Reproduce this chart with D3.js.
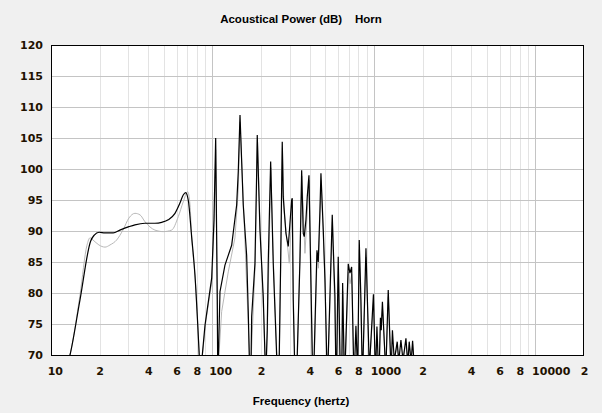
<!DOCTYPE html>
<html><head><meta charset="utf-8">
<script src="https://cdn.jsdelivr.net/npm/d3@7"></script>
<style>
html,body{margin:0;padding:0;background:#f0f0f0;}
svg{display:block;}
</style></head><body>
<svg id="chart" width="602" height="413"></svg>
<script>
const titleText = "Acoustical Power (dB)    Horn";
const xAxisTitle = "Frequency (hertz)";
const yTickValues = [70, 75, 80, 85, 90, 95, 100, 105, 110, 115, 120];
const xTickValues = [10, 20, 40, 60, 80, 100, 200, 400, 600, 800, 1000, 2000, 4000, 6000, 8000, 10000, 20000];
const xTickLabels = ["10", "2", "4", "6", "8", "100", "2", "4", "6", "8", "1000", "2", "4", "6", "8", "10000", "2"];
const minorGridFreqs = [20, 30, 40, 50, 60, 70, 80, 90, 200, 300, 400, 500, 600, 700, 800, 900,
  2000, 3000, 4000, 5000, 6000, 7000, 8000, 9000];
const majorGridFreqs = [100, 1000, 10000];
const smoothBelowHz = 83; // smooth low-frequency part, straight segments for the resonance spikes above

// Main response (black)
const blackFreq = [12.67, 13.11, 15.12, 17.61, 18.54, 19.83, 21.6, 24.3, 26.7, 30.4, 33.1, 38.2, 44.0, 48.5, 53.2, 58.6,
  62.9, 65.9, 68.2, 70.8, 74.3, 77.9, 82.8, 84.6, 86.5, 89.9, 98.9, 102.2, 104.7, 107.1, 107.8, 108.9, 111.3, 119.5,
  131.5, 141.2, 144.5, 148.1, 155.1, 162.8, 166.6, 169.0, 171.2, 173.6, 174.9, 183.3, 187.8, 189.4, 196.8, 206.3,
  211.4, 214.4, 218.4, 221.5, 229.3, 237.9, 249.7, 254.4, 259.2, 264.4, 270.5, 274.4, 285.2, 294.7, 309.3, 312.0,
  316.4, 321.9, 328.9, 335.0, 348.3, 356.8, 365.0, 370.3, 379.3, 386.4, 395.9, 401.6, 414.9, 420.3, 426.4, 443.8,
  452.0, 463.1, 469.7, 485.5, 497.4, 509.6, 515.4, 521.3, 551.9, 559.8, 573.5, 579.2, 584.2, 589.3, 601.0, 615.8,
  624.6, 633.8, 640.0, 652.0, 659.6, 666.2, 693.3, 710.3, 727.7, 746.6, 755.1, 762.8, 773.6, 785.0, 791.6, 796.0,
  811.0, 830.9, 842.8, 850.0, 857.3, 892.5, 931.1, 939.1, 947.3, 993.0, 1014.4, 1023.0, 1031.8, 1043.7, 1058.7,
  1070.8, 1083.1, 1097.1, 1109.7, 1128.6, 1169.8, 1181.5, 1193.3, 1226.3, 1265.5, 1276.3, 1287.3, 1302, 1330,
  1342, 1353, 1394, 1414, 1426, 1438, 1469.6, 1501.6, 1514.4, 1529.6, 1578.3, 1605.8, 1619.6, 1633.5, 1654,
  1682.7, 1697, 1711.6, 1736, 1758.7, 1781.6];
const blackDb = [68.5, 70.0, 78.9, 88.4, 89.35, 89.8, 89.7, 89.7, 90.15, 90.7, 91.0, 91.25, 91.25, 91.4, 91.8, 92.85,
  94.5, 95.8, 96.2, 95.0, 89.1, 82.9, 70.0, 67.3, 70.0, 74.8, 82.4, 91.8, 105.0, 78.9, 67.3, 70.0, 80.2, 84.5,
  87.7, 94.2, 99.6, 108.7, 94.2, 86.1, 77.0, 70.0, 67.3, 70.0, 76.2, 84.8, 99.3, 105.5, 90.2, 79.4,
  70.0, 67.3, 74.0, 84.8, 101.2, 84.8, 70.0, 67.3, 70.0, 84.8, 104.4, 95.5, 89.6, 87.5, 95.0, 95.3,
  78.9, 70.0, 67.3, 70.0, 85.3, 99.8, 89.6, 89.1, 91.8, 95.5, 99.0, 90.2, 70.0, 67.3, 70.0, 86.9,
  85.0, 93.4, 99.3, 90.2, 82.1, 70.0, 67.3, 70.0, 92.6, 87.5, 79.4, 70.0, 67.5, 70.0, 85.85, 70.0,
  67.5, 70.0, 81.6, 70.0, 67.9, 70.0, 84.7, 83.2, 84.2, 70.0, 67.9, 70.0, 74.7, 70.0, 67.9, 70.0,
  88.55, 78.9, 70.0, 67.9, 70.0, 87.2, 70.0, 67.9, 70.0, 79.8, 70.0, 67.9, 70.0, 74.6, 70.0,
  67.9, 70.0, 76.0, 74.0, 78.6, 70.0, 67.9, 70.0, 80.5, 70.0, 67.9, 70.0, 74.0, 70.0,
  67.9, 70.0, 72.15, 70.0, 67.9, 70.0, 72.4, 70.0, 67.9, 70.0, 72.7, 70.0, 67.9, 70.0, 72.15,
  70.0, 67.9, 70.0, 72.3, 70.0, 67.3];

// Second response (light grey)
const grayFreq = [12.67, 13.11, 15.12, 16.7, 17.45, 18.2, 19.8, 21.6, 23.2, 25.5, 27.9, 30.4, 33.1, 35.6, 38.2, 44.0,
  49.6, 55.9, 61.4, 65.9, 70.2, 72.6, 74.3, 77.9, 82.8, 84.6, 86.7, 91.2, 99.3, 102.4, 104.7, 107.1, 107.8, 109.7,
  114.0, 125.3, 137.8, 144.5, 148.1, 155.6, 169.5, 171.2, 174.1, 184.1, 189.9, 197.7, 212.0, 214.4, 219.0, 229.9,
  238.6, 250.5, 254.4, 260.0, 271.3, 277.2, 298.9, 312.0, 317.3, 322.8, 328.9, 336.0, 357.8, 373.9, 397.0, 403.3,
  416.1, 420.3, 428.2, 445.0, 453.3, 471.1, 498.8, 510.9, 515.4, 522.8, 553.4, 580.9, 584.2, 590.5, 602.5, 616.5,
  624.6, 634.5, 641, 652.8, 659.6, 667, 695, 711, 729, 747.5, 755.1, 796.5, 812, 843.5, 850, 858, 893.5, 932,
  939.1, 948, 994, 1015, 1023, 1084, 1098, 1129.5, 1170.5, 1181.5, 1194, 1227.5, 1266, 1276.3, 1354, 1395, 1415,
  1426, 1530, 1579, 1606, 1619.6, 1634, 1655, 1683, 1697, 1712, 1737, 1759, 1781.6];
const grayDb = [68.5, 70.0, 79.7, 87.7, 88.9, 88.55, 87.75, 87.4, 87.75, 88.55, 90.15, 92.1, 92.85, 92.6, 91.5, 90.15,
  89.9, 90.15, 92.3, 94.7, 96.35, 94.2, 89.1, 82.9, 70.0, 67.3, 70.0, 75.6, 82.1, 91.0, 103.1, 78.9, 67.3, 70.0,
  77.0, 83.4, 88.9, 96.6, 107.6, 94.2, 70.0, 67.3, 70.0, 84.8, 104.7, 90.15, 70.0, 67.3, 74.0, 100.2,
  84.8, 70.0, 67.3, 70.0, 103.4, 93.4, 84.8, 94.2, 78.9, 70.0, 67.3, 70.0, 98.9, 86.4, 98.2, 89.35,
  70.0, 67.3, 70.0, 86.1, 84.0, 98.2, 81.3, 70.0, 67.3, 70.0, 91.45, 70.0, 67.5, 70.0, 84.6, 70.0,
  67.5, 70.0, 80.3, 70.0, 67.9, 70.0, 83.4, 81.5, 83.0, 70.0, 67.9, 70.0, 87.0, 70.0, 67.9, 70.0, 85.8, 70.0,
  67.9, 70.0, 78.6, 70.0, 67.9, 70.0, 75.0, 77.5, 70.0, 67.9, 70.0, 79.4, 70.0, 67.9, 70.0, 71.5, 70.0,
  67.9, 70.0, 72.0, 70.0, 67.9, 70.0, 71.6, 70.0, 67.9, 70.0, 71.7, 70.0, 67.3];

const W = 602, H = 413;
const plot = {left: 51, right: 584, top: 45, bottom: 355};
const svg = d3.select("#chart");

const x = d3.scaleLog().domain([10, 20000]).range([plot.left, plot.right]);
const y = d3.scaleLinear().domain([70, 120]).range([plot.bottom, plot.top]);

svg.append("rect").attr("width", W).attr("height", H).attr("fill", "#f0f0f0");
svg.append("rect").attr("x", plot.left).attr("y", plot.top)
  .attr("width", plot.right - plot.left).attr("height", plot.bottom - plot.top).attr("fill", "#ffffff");

svg.append("defs").append("clipPath").attr("id", "clip").append("rect")
  .attr("x", plot.left).attr("y", plot.top)
  .attr("width", plot.right - plot.left).attr("height", plot.bottom - plot.top);

// minor vertical grid
const gMinor = svg.append("g").attr("transform", `translate(0,${plot.bottom})`)
  .call(d3.axisBottom(x).tickValues(minorGridFreqs).tickSize(-(plot.bottom - plot.top)).tickFormat(""));
gMinor.select(".domain").remove();
gMinor.selectAll("line").attr("stroke", "#e3e3e3").attr("shape-rendering", "crispEdges");

// major vertical grid
const gMajor = svg.append("g").attr("transform", `translate(0,${plot.bottom})`)
  .call(d3.axisBottom(x).tickValues(majorGridFreqs).tickSize(-(plot.bottom - plot.top)).tickFormat(""));
gMajor.select(".domain").remove();
gMajor.selectAll("line").attr("stroke", "#c4c4c4").attr("shape-rendering", "crispEdges");

// horizontal grid
const gH = svg.append("g").attr("transform", `translate(${plot.left},0)`)
  .call(d3.axisLeft(y).tickValues(yTickValues.slice(1, -1)).tickSize(-(plot.right - plot.left)).tickFormat(""));
gH.select(".domain").remove();
gH.selectAll("line").attr("stroke", "#c4c4c4").attr("shape-rendering", "crispEdges");

const smoothLine = d3.line().x(d => x(d[0])).y(d => y(d[1])).curve(d3.curveMonotoneX);
const sharpLine = d3.line().x(d => x(d[0])).y(d => y(d[1])).curve(d3.curveLinear);

function drawSeries(freqs, dbs, color, width) {
  const data = freqs.map((f, i) => [f, dbs[i]]);
  let split = data.findIndex(d => d[0] > smoothBelowHz);
  const low = data.slice(0, split);
  const high = data.slice(split - 1);
  const d = smoothLine(low) + sharpLine(high).replace(/^M/, "L");
  gLines.append("path").attr("d", d)
    .attr("fill", "none").attr("stroke", color).attr("stroke-width", width).attr("stroke-linejoin", "miter");
}

const gLines = svg.append("g").attr("clip-path", "url(#clip)");
drawSeries(grayFreq, grayDb, "#b8b8b8", 1.0);
drawSeries(blackFreq, blackDb, "#000000", 1.2);

// border
svg.append("rect").attr("x", plot.left + 0.5).attr("y", plot.top + 0.5)
  .attr("width", plot.right - plot.left - 1).attr("height", plot.bottom - plot.top)
  .attr("fill", "none").attr("stroke", "#000").attr("stroke-width", 1);

const labelColor = "#1f1200";
// y axis labels
const gy = svg.append("g").attr("transform", `translate(${plot.left},0)`)
  .call(d3.axisLeft(y).tickValues(yTickValues).tickSize(0).tickPadding(8).tickFormat(d3.format("d")));
gy.select(".domain").remove();
gy.selectAll("text").attr("fill", labelColor)
  .style("font-family", "'DejaVu Sans', Verdana, sans-serif").style("font-weight", "bold").style("font-size", "11px");

// x axis labels
const gx = svg.append("g").attr("transform", `translate(0,${plot.bottom})`)
  .call(d3.axisBottom(x).tickValues(xTickValues).tickSize(0).tickPadding(12)
    .tickFormat((d, i) => xTickLabels[i]));
gx.select(".domain").remove();
gx.selectAll("text").attr("fill", labelColor).attr("text-anchor", "start").attr("dx", -3.8)
  .style("font-family", "'DejaVu Sans', Verdana, sans-serif").style("font-weight", "bold").style("font-size", "11px");

svg.append("text").attr("x", 301).attr("y", 23).attr("text-anchor", "middle")
  .style("white-space", "pre")
  .style("font-family", "'Liberation Sans', Arial, sans-serif").style("font-weight", "bold").style("font-size", "11.5px")
  .attr("fill", "#000").text(titleText);

svg.append("text").attr("x", 301).attr("y", 405).attr("text-anchor", "middle")
  .style("font-family", "'Liberation Sans', Arial, sans-serif").style("font-weight", "bold").style("font-size", "11.5px")
  .attr("fill", "#000").text(xAxisTitle);
</script>
</body></html>
